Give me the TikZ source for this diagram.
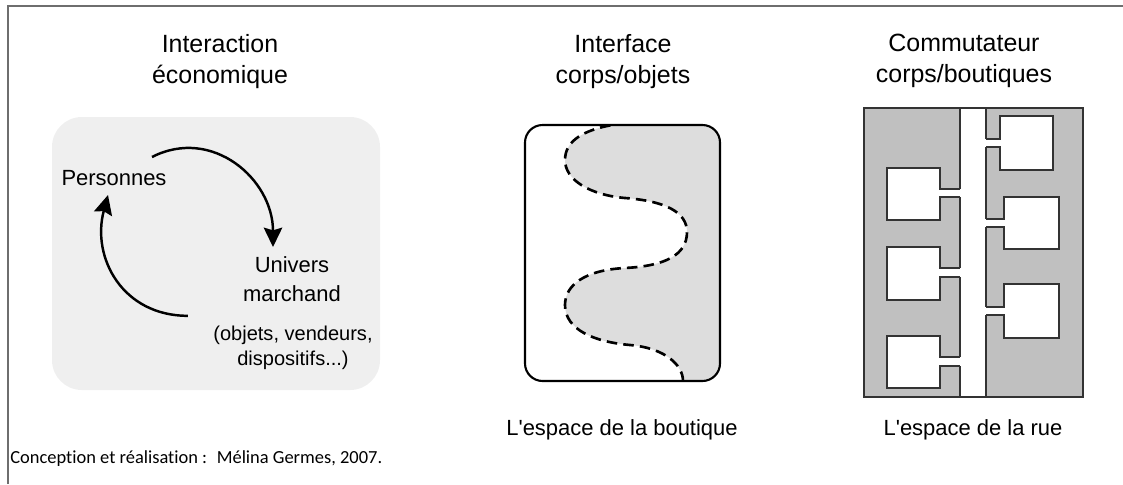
\documentclass[tikz,border=0pt]{standalone}
\usepackage{fontspec}
\setmainfont{Liberation Sans}
\newfontfamily\notefont[Ligatures={NoCommon}]{Carlito}
\usetikzlibrary{arrows.meta}
\definecolor{fondgris}{RGB}{239, 239, 239}
\definecolor{boutiquegris}{RGB}{221, 221, 221}
\definecolor{ruegris}{RGB}{192, 192, 192}
\definecolor{cadregris}{RGB}{110, 110, 110}

\begin{document}
\begin{tikzpicture}[x=0.02cm, y=-0.02cm,
    titre/.style={align=center, inner sep=0pt, font=\fontsize{14.2}{17.6}\selectfont},
    texte/.style={align=center, inner sep=0pt, font=\fontsize{12.5}{16.5}\selectfont},
    fleche/.style={line width=1.4pt, -{Stealth[length=11pt, width=10.5pt, inset=1.5pt]}, looseness=1.15},
    mur/.style={draw=black!80, line width=0.7pt}]
                    \useasboundingbox (0,0) rectangle (1123,484);
                    \draw[cadregris, line width=0.9pt] (8,484) -- (8,6) -- (1123,6);

                    \fill[fondgris, rounded corners=17pt] (52,117) rectangle (380,390);
                    \node[titre, anchor=north] (titre1) at (220,34) {Interaction\\économique};
                    \node[texte] (pers) at (114,178) {Personnes};
                    \node[texte, anchor=north] (univ) at (292,256) {Univers\\marchand};
                    \node[texte, anchor=north, font=\fontsize{11.4}{14.2}\selectfont] (detail) at (293,326) {(objets, vendeurs,\\dispositifs...)};

                    \draw[fleche] ([shift={(38,-13)}]pers.north) to[out=27, in=90] ([shift={(-19,-9)}]univ.north);
                    \draw[fleche] ([shift={(-55,14)}]univ.south west) to[out=180, in=-105] ([shift={(-6,9)}]pers.south);

                    \node[titre, anchor=north] (titre2) at (623,34) {Interface\\corps/objets};
                    \begin{scope}
                    \clip[rounded corners=10pt] (525,125) rectangle (720,381);
                    \path[fill=boutiquegris, draw, line width=1.5pt, dash pattern=on 6pt off 3.5pt] (612,110) -- (612,125)
                        .. controls (585,130) and (565,140) .. (565,160)
                        .. controls (565,180) and (590,195) .. (625,198)
                        .. controls (665,201) and (687,212) .. (687,232)
                        .. controls (687,255) and (665,266) .. (625,268)
                        .. controls (585,270) and (565,285) .. (565,305)
                        .. controls (565,330) and (595,342) .. (630,345)
                        .. controls (665,348) and (683,365) .. (683,381)
                        -- (683,400) -- (740,400) -- (740,110) -- cycle;
                    \end{scope}
                    \draw[line width=1.2pt, rounded corners=10pt] (525,125) rectangle (720,381);
                    \node[texte] (legende2) at (622,430) {L\textquotesingle espace de la boutique};

                    \node[titre, anchor=north] (titre3) at (964,34) {Commutateur\\corps/boutiques};
                    \filldraw[fill=ruegris, mur] (864,108) rectangle (1083,397);
                    \fill[white] (960,108) rectangle (986,397);
                    \filldraw[fill=white, mur] (960,189) -- (940,189) -- (940,168) -- (887,168) -- (887,220) -- (940,220) -- (940,197) -- (960,197);
                    \filldraw[fill=white, mur] (960,268) -- (940,268) -- (940,247) -- (887,247) -- (887,300) -- (940,300) -- (940,277) -- (960,277);
                    \filldraw[fill=white, mur] (960,357) -- (940,357) -- (940,336) -- (887,336) -- (887,388) -- (940,388) -- (940,366) -- (960,366);
                    \filldraw[fill=white, mur] (986,139) -- (1000,139) -- (1000,116) -- (1053,116) -- (1053,170) -- (1000,170) -- (1000,147) -- (986,147);
                    \filldraw[fill=white, mur] (986,219) -- (1004,219) -- (1004,197) -- (1059,197) -- (1059,249) -- (1004,249) -- (1004,227) -- (986,227);
                    \filldraw[fill=white, mur] (986,307) -- (1004,307) -- (1004,284) -- (1059,284) -- (1059,338) -- (1004,338) -- (1004,315) -- (986,315);
                    \draw[mur] (960,108) -- (960,189) (960,197) -- (960,268) (960,277) -- (960,357) (960,366) -- (960,397);
                    \draw[mur] (986,108) -- (986,139) (986,147) -- (986,219) (986,227) -- (986,307) (986,315) -- (986,397);
                    \draw[mur] (864,108) rectangle (1083,397);
                    \node[texte] (legende3) at (973,430) {L\textquotesingle espace de la rue};

                    \node[anchor=west, inner sep=0pt, font=\notefont\fontsize{10.5}{12}\selectfont] (credit) at (10,459) {Conception et réalisation :~ Mélina Germes, 2007.};
                \end{tikzpicture}
\end{document}
